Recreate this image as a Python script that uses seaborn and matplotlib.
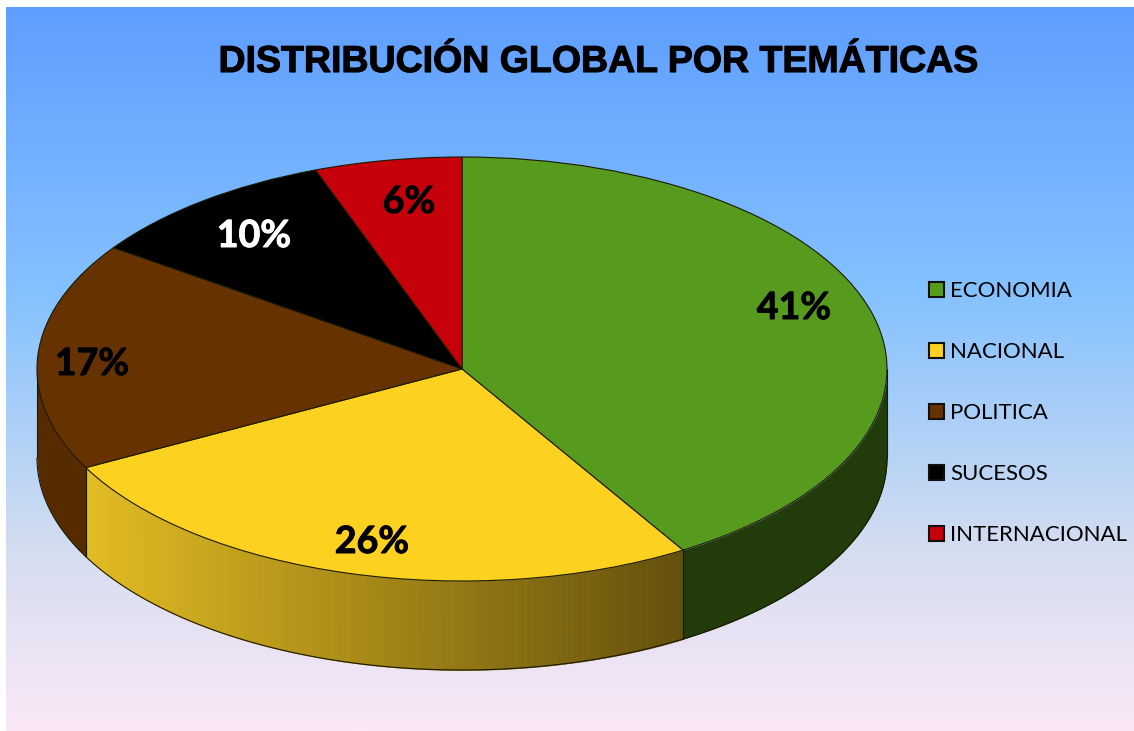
import numpy as np
import matplotlib
matplotlib.use("Agg")
import matplotlib.pyplot as plt
import matplotlib.patheffects as pe
from matplotlib.colors import LinearSegmentedColormap
import seaborn as sns

title = "DISTRIBUCIÓN GLOBAL POR TEMÁTICAS"
categories = ["ECONOMIA", "NACIONAL", "POLITICA", "SUCESOS", "INTERNACIONAL"]
values = [41.3, 26.0, 17.4, 9.7, 5.6]

top_colors = ["#579B1E", "#FDD120", "#653200", "#000000", "#C5000B"]
wall_colors = ["#213C0A", None, "#572B00", "#000000", "#7A0007"]
label_colors = ["black", "black", "black", "white", "black"]

# layout in reference pixels
W, H = 1134, 731
CX, CY, RX, RY, DEPTH = 462, 369, 425, 212, 89
label_px = [(794, 308), (372, 542), (92, 364), (254, 236), (409, 202)]

sns.set_theme(style="white")
sns.set_palette(top_colors)
plt.rcParams["font.family"] = ["Lato", "DejaVu Sans"]


def to_data(px, py):
    return (px - CX) / RX, (CY - py) / RY


fig = plt.figure(figsize=(W / 100, H / 100), dpi=100, facecolor="white")

# background gradient
bg = fig.add_axes([6 / W, 0, 1 - 6 / W, (H - 7) / H])
grad_cmap = LinearSegmentedColormap.from_list(
    "bg", [(0, "#5E9EFF"), (0.4, "#85C2FF"), (0.75, "#D4DDF0"), (1, "#FBE8F7")]
)
bg.imshow(np.linspace(0, 1, 256).reshape(-1, 1), cmap=grad_cmap, aspect="auto")
bg.axis("off")

ax = fig.add_axes([0, 0, 1, 1])
ax.patch.set_alpha(0)

wedges, _, autotexts = ax.pie(
    values,
    colors=top_colors,
    startangle=90,
    counterclock=False,
    radius=1,
    autopct="%.0f%%",
    wedgeprops={"edgecolor": "#1a1a00", "linewidth": 0.8},
)

ax.set_aspect("auto")
ax.set_xlim(-CX / RX, (W - CX) / RX)
ax.set_ylim((CY - H) / RY, CY / RY)
ax.axis("off")

depth = DEPTH / RY
yellow_cmap = LinearSegmentedColormap.from_list("wall", ["#E2BC22", "#65500C"])

# side wall, only the front half of the disc shows
bounds = np.cumsum([0] + values) / sum(values) * 360
for i in range(len(values)):
    a0 = max(bounds[i], 90)
    a1 = min(bounds[i + 1], 270)
    if a1 <= a0:
        continue
    th = np.radians(np.linspace(a0, a1, 121))
    xs, ys = np.sin(th), np.cos(th)
    if wall_colors[i] is None:
        for j in range(len(th) - 1):
            f = (xs[j] - xs[0]) / (xs[-1] - xs[0])
            ax.fill_between(xs[j:j + 2], ys[j:j + 2], ys[j:j + 2] - depth,
                            color=yellow_cmap(1 - f), linewidth=0.5,
                            antialiased=False, zorder=0.5)
    else:
        ax.fill_between(xs, ys, ys - depth, color=wall_colors[i], linewidth=0, zorder=0.5)
    # outlines of the wall
    ax.plot(xs, ys - depth, color="#1a1a00", lw=0.8, zorder=0.6)
    for k in (0, -1):
        ax.plot([xs[k], xs[k]], [ys[k], ys[k] - depth], color="#1a1a00", lw=0.8, zorder=0.6)

for t, c, pos in zip(autotexts, label_colors, label_px):
    t.set_position(to_data(*pos))
    t.set(color=c, fontsize=27, fontweight="bold", ha="center", va="center", family="Lato",
          path_effects=[pe.withStroke(linewidth=0.7, foreground=c)])

fig.text(598 / W, 1 - 62 / H, title, ha="center", va="center", fontsize=27,
         fontweight="bold", family="Liberation Sans", color="black",
         path_effects=[pe.withStroke(linewidth=0.8, foreground="black")])

leg = ax.legend(
    wedges, categories, loc="upper left",
    bbox_to_anchor=(929 / W, 1 - 281 / H), bbox_transform=fig.transFigure,
    frameon=False, fontsize=16, labelcolor="black", handlelength=0.68, handleheight=0.68,
    handletextpad=0.27, labelspacing=1.85, borderpad=0, borderaxespad=0,
)
for h in leg.get_patches():
    h.set_edgecolor("#111111")
    h.set_linewidth(1.5)

fig.savefig("out.png", dpi=100, facecolor="white")
